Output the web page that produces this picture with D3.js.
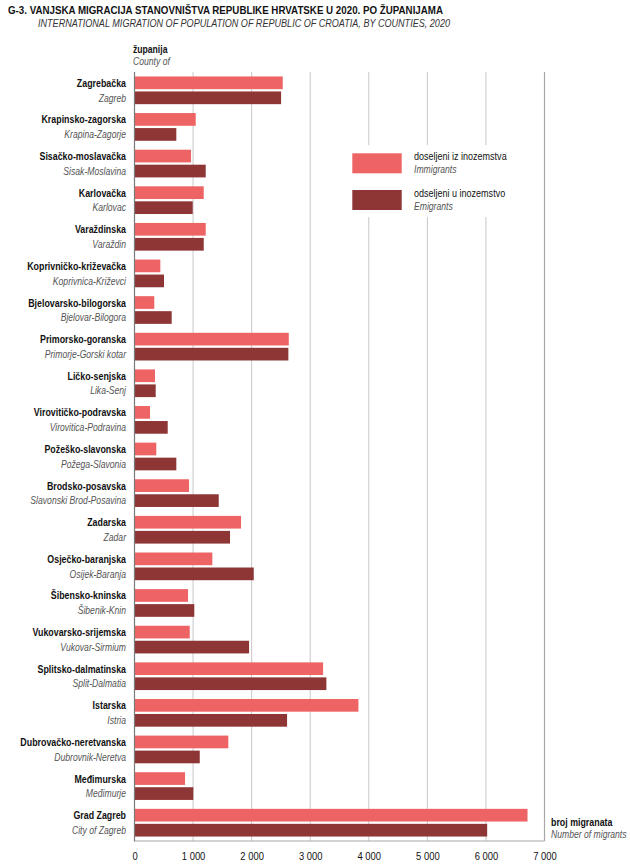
<!DOCTYPE html>
<html>
<head>
<meta charset="utf-8">
<script src="https://cdn.jsdelivr.net/npm/d3@7"></script>
<style>
  html, body { margin: 0; padding: 0; background: #fff; }
  svg { display: block; }
  text { font-family: "Liberation Sans", Arial, "DejaVu Sans", sans-serif; }
</style>
</head>
<body>
<svg id="chart" width="630" height="867"></svg>
<script>
// ---- data ----
const countiesHr = ["Zagrebačka","Krapinsko-zagorska","Sisačko-moslavačka","Karlovačka","Varaždinska",
  "Koprivničko-križevačka","Bjelovarsko-bilogorska","Primorsko-goranska","Ličko-senjska","Virovitičko-podravska",
  "Požeško-slavonska","Brodsko-posavska","Zadarska","Osječko-baranjska","Šibensko-kninska",
  "Vukovarsko-srijemska","Splitsko-dalmatinska","Istarska","Dubrovačko-neretvanska","Međimurska","Grad Zagreb"];
const countiesEn = ["Zagreb","Krapina-Zagorje","Sisak-Moslavina","Karlovac","Varaždin",
  "Koprivnica-Križevci","Bjelovar-Bilogora","Primorje-Gorski kotar","Lika-Senj","Virovitica-Podravina",
  "Požega-Slavonia","Slavonski Brod-Posavina","Zadar","Osijek-Baranja","Šibenik-Knin",
  "Vukovar-Sirmium","Split-Dalmatia","Istria","Dubrovnik-Neretva","Međimurje","City of Zagreb"];
const immigrants = [2531,1045,965,1182,1216,441,338,2634,350,265,372,931,1819,1329,914,943,3220,3823,1602,863,6710];
const emigrants  = [2503,714,1216,994,1182,504,635,2627,362,567,714,1438,1631,2036,1021,1956,3276,2605,1114,1004,6021];
const tickValues = [0,1000,2000,3000,4000,5000,6000,7000];
const seriesKeys = ["imm","em"];
const seriesHr = ["doseljeni iz inozemstva","odseljeni u inozemstvo"];
const seriesEn = ["Immigrants","Emigrants"];
const titleHr = "G-3.  VANJSKA MIGRACIJA STANOVNIŠTVA REPUBLIKE HRVATSKE U 2020. PO ŽUPANIJAMA";
const titleEn = "INTERNATIONAL MIGRATION OF POPULATION OF REPUBLIC OF CROATIA, BY COUNTIES, 2020";

// ---- layout ----
const colors = { imm: "#ee6464", em: "#8e3636" };
const NARROW = 0.82;
const svg = d3.select("#chart");
const x0 = 134.5, x1 = 544.5, yTop = 72, yBot = 841;

const x = d3.scaleLinear().domain([0, 7000]).range([x0, x1]);
const y = d3.scaleBand().domain(d3.range(countiesHr.length)).range([yTop, yBot]).padding(0);
const ySub = d3.scaleBand().domain(seriesKeys).range([4.46, y.bandwidth() - 4.46]).paddingInner(0.153);

const loc = d3.formatLocale({decimal: ",", thousands: " ", grouping: [3], currency: ["", ""]});
const fmt = loc.format(",d");

// narrow text helper (horizontal compression imitates a condensed face)
function ntext(parent, px, py, str, o = {}) {
  return parent.append("text")
    .attr("transform", `translate(${px},${py}) scale(${NARROW},1)`)
    .attr("text-anchor", o.anchor || "start")
    .attr("font-size", o.size || 10.5)
    .attr("font-weight", o.bold ? "bold" : null)
    .attr("font-style", o.italic ? "italic" : null)
    .attr("fill", o.fill || "#111")
    .text(str);
}

// title
svg.append("text").attr("x", 8).attr("y", 14)
  .attr("font-weight", "bold").attr("font-size", 11.5).attr("fill", "#111")
  .attr("textLength", 435).attr("lengthAdjust", "spacingAndGlyphs")
  .text(titleHr);
svg.append("text").attr("x", 38).attr("y", 27)
  .attr("font-style", "italic").attr("font-size", 11.5).attr("fill", "#333")
  .attr("textLength", 412).attr("lengthAdjust", "spacingAndGlyphs")
  .text(titleEn);

// axis caption
ntext(svg, 133, 53.3, "županija", {bold: true, size: 10.5});
ntext(svg, 133, 65, "County of", {italic: true, size: 10.5, fill: "#555"});

// gridlines
svg.append("g").selectAll("line").data(tickValues.filter(t => t > 0 && t < 7000)).join("line")
  .attr("x1", d => x(d)).attr("x2", d => x(d))
  .attr("y1", yTop).attr("y2", yBot)
  .attr("stroke", "#c8c8c8").attr("stroke-width", 1);

// right & bottom frame
svg.append("line").attr("x1", x(7000)).attr("x2", x(7000)).attr("y1", yTop).attr("y2", yBot)
  .attr("stroke", "#a8a8a8").attr("stroke-width", 1.2);
svg.append("line").attr("x1", x0).attr("x2", x(7000)).attr("y1", yBot).attr("y2", yBot)
  .attr("stroke", "#a8a8a8").attr("stroke-width", 1.2);

// legend background + legend
const lg = svg.append("g");
lg.append("rect").attr("x", 342).attr("y", 145).attr("width", 198).attr("height", 72).attr("fill", "#fff");
seriesKeys.forEach((k, i) => {
  const yy = 153.3 + i * 36.7;
  lg.append("rect").attr("x", 352.3).attr("y", yy).attr("width", 49.4).attr("height", 20)
    .attr("fill", colors[k]);
  ntext(lg, 414, yy + 7, seriesHr[i], {size: 11});
  ntext(lg, 414, yy + 20, seriesEn[i], {size: 10.5, italic: true, fill: "#555"});
});

// bars
const rows = svg.append("g").selectAll("g").data(countiesHr.map((c, i) => i)).join("g")
  .attr("transform", i => `translate(0,${y(i)})`);
rows.append("rect")
  .attr("x", x(0)).attr("y", ySub("imm")).attr("height", ySub.bandwidth())
  .attr("width", i => x(immigrants[i]) - x(0)).attr("fill", colors.imm);
rows.append("rect")
  .attr("x", x(0)).attr("y", ySub("em")).attr("height", ySub.bandwidth())
  .attr("width", i => x(emigrants[i]) - x(0)).attr("fill", colors.em);

// category labels
rows.each(function(i) {
  const g = d3.select(this);
  ntext(g, 126, ySub("imm") + ySub.bandwidth() / 2 + 4, countiesHr[i], {anchor: "end", bold: true, size: 10.8});
  ntext(g, 126, ySub("em") + ySub.bandwidth() / 2 + 3.7, countiesEn[i], {anchor: "end", italic: true, size: 10.5, fill: "#555"});
});

// left axis line
svg.append("line").attr("x1", x0).attr("x2", x0).attr("y1", yTop).attr("y2", yBot + 0.5)
  .attr("stroke", "#7a7a7a").attr("stroke-width", 1.2);

// x axis
const ax = svg.append("g").attr("transform", `translate(0,${yBot})`)
  .call(d3.axisBottom(x).tickValues(tickValues).tickSize(0).tickPadding(11).tickFormat(fmt));
ax.select(".domain").remove();
ax.selectAll("text").attr("font-size", 11.5).attr("fill", "#111")
  .attr("transform", `scale(${NARROW},1)`)
  .style("font-family", '"Liberation Sans", Arial, sans-serif');

// axis unit label
ntext(svg, 551, 825.7, "broj migranata", {bold: true, size: 10.8});
ntext(svg, 551, 838.3, "Number of migrants", {italic: true, size: 10.5, fill: "#555"});
</script>
</body>
</html>
